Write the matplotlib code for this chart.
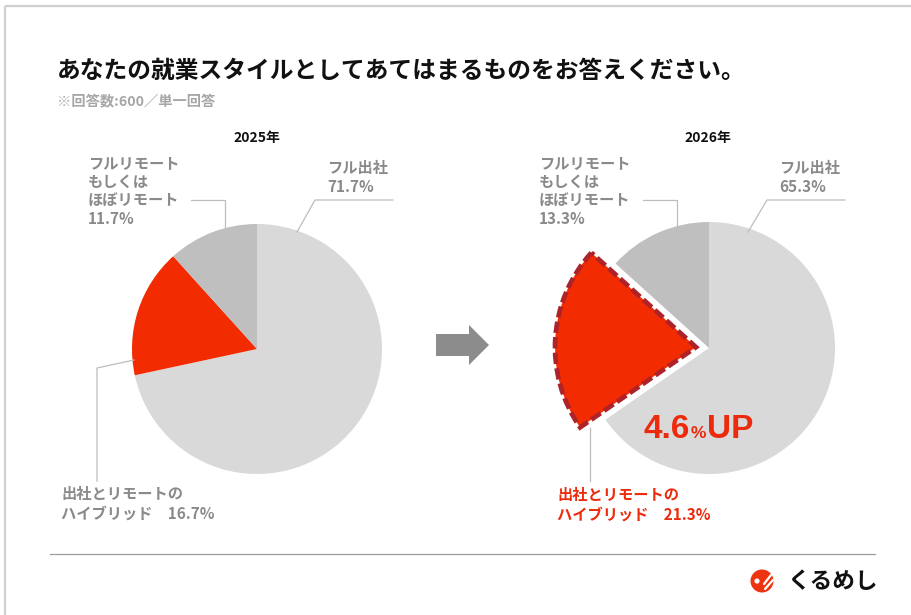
import matplotlib
matplotlib.use("Agg")
import matplotlib.pyplot as plt
from matplotlib.patches import Polygon, Circle

plt.rcParams['font.family'] = ['Noto Sans CJK JP', 'DejaVu Sans']

# ---- data ----
title = "あなたの就業スタイルとしてあてはまるものをお答えください。"
subtitle = "※回答数:600／単一回答"
years = ["2025年", "2026年"]
categories = ["フル出社", "出社とリモートのハイブリッド", "フルリモートもしくはほぼリモート"]
values_2025 = [71.7, 16.7, 11.7]
values_2026 = [65.3, 21.3, 13.3]
colors = ["#D9D9D9", "#F22C00", "#BFBFBF"]
label_full_2025 = ["フル出社", "71.7%"]
label_remote_2025 = ["フルリモート", "もしくは", "ほぼリモート", "11.7%"]
label_hybrid_2025 = ["出社とリモートの", "ハイブリッド　16.7%"]
label_full_2026 = ["フル出社", "65.3%"]
label_remote_2026 = ["フルリモート", "もしくは", "ほぼリモート", "13.3%"]
label_hybrid_2026 = ["出社とリモートの", "ハイブリッド　21.3%"]
up_text = ["4.6", "%", "UP"]
brand = "くるめし"

W, H = 911, 615
fig = plt.figure(figsize=(W / 100, H / 100), dpi=100)
ax = fig.add_axes([0, 0, 1, 1])


def Y(y):
    return H - y


GRAY_TXT = "#8A8A8A"
RED_TXT = "#EC2A0C"
LEAD = "#BDBDBD"

# pies
w1, _ = ax.pie(values_2025, colors=colors, startangle=90, counterclock=False,
               center=(257, Y(349)), radius=125,
               wedgeprops=dict(linewidth=0))
w2, _ = ax.pie(values_2026, colors=colors, startangle=90, counterclock=False,
               center=(709, Y(348)), radius=126, explode=[0, 13, 0],
               wedgeprops=dict(linewidth=0))
red = w2[1]
red.set_radius(141)
red.set_edgecolor("#AE2229")
red.set_linewidth(3.4)
red.set_linestyle((0, (2.4, 0.9)))
red.set_zorder(3)

ax.set_xlim(0, W)
ax.set_ylim(0, H)
ax.set_aspect('equal')
ax.axis('off')

# frame
ax.plot([5, 5], [Y(6), Y(615)], color="#D0D0D0", lw=1.6, solid_capstyle='butt')
ax.plot([5, 911], [Y(6), Y(6)], color="#D0D0D0", lw=1.6, solid_capstyle='butt')

# title
ax.text(57, Y(71), title, fontsize=17.1, fontweight='bold', color="#111111",
        ha='left', va='center')
ax.text(57, Y(101), subtitle, fontsize=10.3, fontweight='bold', color="#A6A6A6",
        ha='left', va='center')

# year labels
ax.text(257, Y(138), years[0], fontsize=10, fontweight='bold', color="#111111",
        ha='center', va='center')
ax.text(708, Y(138), years[1], fontsize=10, fontweight='bold', color="#111111",
        ha='center', va='center')


def lines(x, y0, texts, color, step=18.5, size=11):
    for i, t in enumerate(texts):
        ax.text(x, Y(y0 + i * step), t, fontsize=size, fontweight='bold',
                color=color, ha='left', va='center')


lines(88, 163, label_remote_2025, GRAY_TXT)
lines(327, 168, label_full_2025, GRAY_TXT, step=19)
lines(61, 494, label_hybrid_2025, GRAY_TXT, step=20)
lines(539, 163, label_remote_2026, GRAY_TXT)
lines(779, 168, label_full_2026, GRAY_TXT, step=19)
lines(557, 495, label_hybrid_2026, RED_TXT, step=20)

# leader lines
def lead(xs, ys):
    ax.plot(xs, [Y(v) for v in ys], color=LEAD, lw=0.9, zorder=1)

lead([191, 225, 225], [200, 200, 232])
lead([393, 315, 297], [200, 200, 232])
lead([97, 97, 134], [481, 368, 360])
lead([643, 677, 677], [200, 200, 232])
lead([845, 767, 748], [200, 200, 232])
lead([590, 590], [428, 481])

# arrow
arrow = Polygon([(436, Y(334)), (469, Y(334)), (469, Y(325)), (489, Y(345)),
                 (469, Y(365)), (469, Y(356)), (436, Y(356))],
                closed=True, facecolor="#8C8C8C", edgecolor='none')
ax.add_patch(arrow)

# 4.6%UP  (chained placement)
fig.canvas.draw()
renderer = fig.canvas.get_renderer()
x = 643
sizes = [24, 12.5, 24]
gaps = [1, 1, 0]
for t, s, g in zip(up_text, sizes, gaps):
    txt = ax.text(x, Y(438), t, fontsize=s, fontweight='bold', color=RED_TXT,
                  family='Liberation Sans', ha='left', va='baseline', zorder=5)
    bb = txt.get_window_extent(renderer=renderer)
    x = x + bb.width + g

# bottom separator
ax.plot([50, 875], [Y(554), Y(554)], color="#9E9E9E", lw=0.9)

# logo
ax.add_patch(Circle((762, Y(581)), 11.5, facecolor="#EE3311", edgecolor='none'))
ax.add_patch(Circle((757, Y(581)), 2.6, facecolor="white", edgecolor='none'))
ax.plot([764, 771], [Y(584), Y(575)], color="white", lw=1.6, solid_capstyle='round')
ax.plot([765, 773], [Y(589), Y(580)], color="white", lw=1.6, solid_capstyle='round')
ax.text(788, Y(581), brand, fontsize=16.3, fontweight='bold', color="#111111",
        ha='left', va='center')

fig.savefig("out.png", dpi=100)
